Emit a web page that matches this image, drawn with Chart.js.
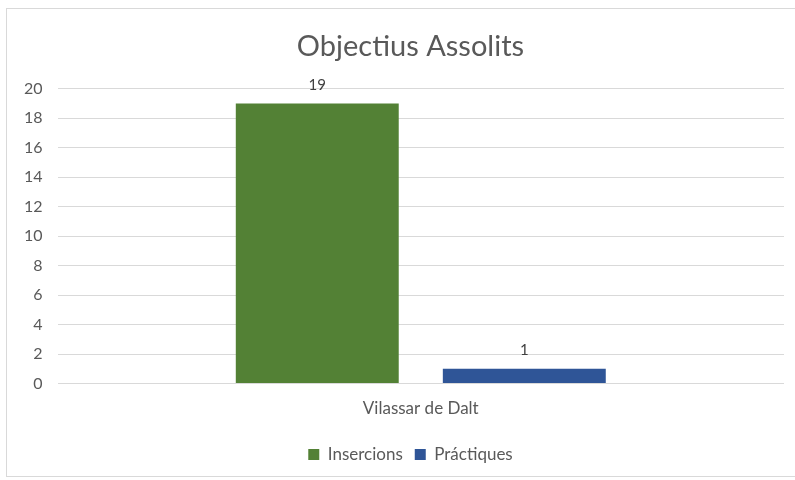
<!DOCTYPE html>
<html>
<head>
<meta charset="utf-8">
<script src="https://cdn.jsdelivr.net/npm/chart.js@4/dist/chart.umd.min.js"></script>
<style>
  html, body { margin: 0; padding: 0; background: #ffffff; }
  #wrap { position: relative; width: 795px; height: 480px; }
  #frame { position: absolute; left: 6px; top: 8px; width: 800px; height: 469px; border: 1px solid #d9d9d9; box-sizing: border-box; pointer-events: none; }
</style>
</head>
<body>
<div id="wrap">
  <canvas id="c" width="795" height="480"></canvas>
  <div id="frame"></div>
</div>
<script>
const categories = ["Vilassar de Dalt"];
const seriesNames = ["Insercions", "Práctiques"];
const insercions = [19];
const practiques = [1];
const yTicks = [0, 2, 4, 6, 8, 10, 12, 14, 16, 18, 20];
const colors = ["#538135", "#2f5597"];

const FONT = "Lato, 'Open Sans', sans-serif";
const TEXT = "#595959";

const valueLabels = {
  id: 'valueLabels',
  afterDatasetsDraw(chart) {
    const ctx = chart.ctx;
    ctx.save();
    ctx.font = "15px " + FONT;
    ctx.fillStyle = "#404040";
    ctx.textAlign = "center";
    ctx.textBaseline = "bottom";
    chart.data.datasets.forEach((ds, i) => {
      const meta = chart.getDatasetMeta(i);
      meta.data.forEach((el, j) => {
        ctx.fillText(String(ds.data[j]), el.x, el.y - 11);
      });
    });
    ctx.restore();
  }
};

// The original chart frame is wider than the window, so title and legend sit slightly right of the canvas centre.
const shiftBlocks = {
  id: 'shiftBlocks',
  afterLayout(chart) {
    const dx = 14;
    [chart.titleBlock, chart.legend].forEach(b => {
      if (b) { b.left += dx; b.right += dx; }
    });
  }
};

new Chart(document.getElementById('c'), {
  type: 'bar',
  data: {
    labels: categories,
    datasets: [
      { label: seriesNames[0], data: insercions, backgroundColor: colors[0], categoryPercentage: 0.570, barPercentage: 0.787 },
      { label: seriesNames[1], data: practiques, backgroundColor: colors[1], categoryPercentage: 0.570, barPercentage: 0.787 }
    ]
  },
  options: {
    responsive: false,
    animation: false,
    layout: { padding: { left: 9, right: 11, top: 19, bottom: 7 } },
    plugins: {
      title: {
        display: true,
        text: "Objectius Assolits",
        color: TEXT,
        font: { family: FONT, size: 29, weight: 'normal' },
        padding: { top: 10, bottom: 25 }
      },
      legend: {
        position: 'bottom',
        labels: {
          color: TEXT,
          font: { family: FONT, size: 17 },
          boxWidth: 11,
          boxHeight: 11,
          padding: 12
        }
      },
      tooltip: { enabled: false }
    },
    scales: {
      x: {
        grid: { display: false, drawTicks: false },
        border: { display: false },
        ticks: { color: TEXT, font: { family: FONT, size: 17 }, padding: 15 }
      },
      y: {
        min: yTicks[0],
        max: yTicks[yTicks.length - 1],
        afterBuildTicks(axis) { axis.ticks = yTicks.map(v => ({ value: v })); },
        grid: { color: "#d9d9d9", drawTicks: false },
        border: { display: false },
        ticks: { color: TEXT, font: { family: FONT, size: 16 }, padding: 15 }
      }
    }
  },
  plugins: [valueLabels, shiftBlocks]
});
</script>
</body>
</html>
